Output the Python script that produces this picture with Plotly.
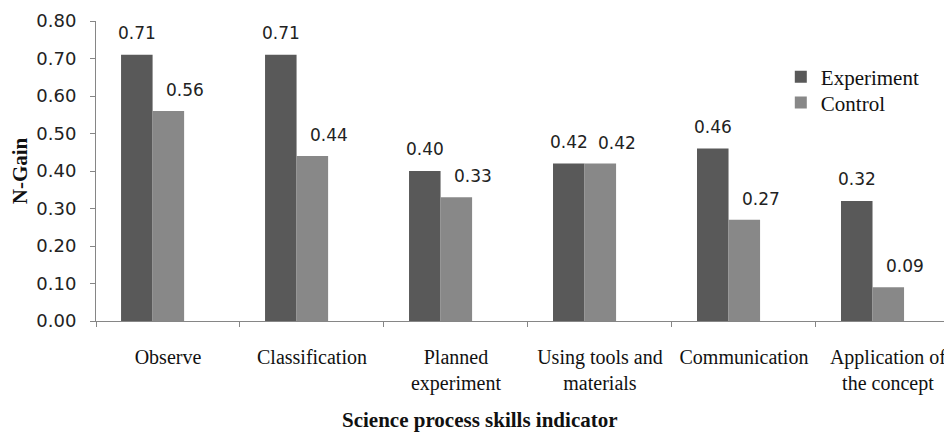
import plotly.graph_objects as go

categories = ["Observe", "Classification", "Planned<br>experiment",
              "Using tools and<br>materials", "Communication",
              "Application of<br>the concept"]
experiment = [0.71, 0.71, 0.40, 0.42, 0.46, 0.32]
control = [0.56, 0.44, 0.33, 0.42, 0.27, 0.09]
series_names = ["Experiment", "Control"]
y_ticks = [0.0, 0.1, 0.2, 0.3, 0.4, 0.5, 0.6, 0.7, 0.8]

DARK = "#595959"
LIGHT = "#888888"
SERIF = "Liberation Serif"
SANS = "DejaVu Sans"

fig = go.Figure()
fig.add_trace(go.Bar(x=categories, y=experiment, name=series_names[0],
                     marker=dict(color=DARK, line=dict(width=0)),
                     width=0.219, offset=-0.326, legend="legend",
                     showlegend=True))
fig.add_trace(go.Bar(x=categories, y=control, name=series_names[1],
                     marker=dict(color=LIGHT, line=dict(width=0)),
                     width=0.219, offset=-0.107, legend="legend2",
                     showlegend=True))

annotations = []
for c, v in zip(categories, experiment):
    annotations.append(dict(x=c, y=v, xref="x", yref="y", text=f"{v:.2f}",
                            showarrow=False, xshift=-31, yshift=22,
                            font=dict(family=SANS, size=17, color="#222")))
for c, v in zip(categories, control):
    annotations.append(dict(x=c, y=v, xref="x", yref="y", text=f"{v:.2f}",
                            showarrow=False, xshift=17, yshift=21,
                            font=dict(family=SANS, size=17, color="#222")))
annotations.append(dict(x=0.4486, y=-0.377, xref="paper", yref="paper",
                        text="<b>Science process skills indicator</b>",
                        showarrow=False, xanchor="center", yanchor="bottom",
                        font=dict(family=SERIF, size=21, color="#111")))

legend_style = dict(xanchor="left", yanchor="middle",
                    font=dict(family=SERIF, size=21, color="#111"),
                    bgcolor="rgba(0,0,0,0)", visible=True)

fig.update_layout(
    width=944, height=427,
    margin=dict(l=88, r=0, t=13, b=114),
    paper_bgcolor="white", plot_bgcolor="white",
    barmode="group",
    showlegend=True,
    annotations=annotations,
    legend=dict(x=0.8, y=0.813, **legend_style),
    legend2=dict(x=0.8, y=0.727, **legend_style),
    xaxis=dict(type="category", range=[-0.5, 5.445], automargin=False,
               tickangle=0,
               showline=True, linecolor="#868686", linewidth=1,
               ticks="outside", tickson="boundaries", ticklen=5,
               tickcolor="#868686", showgrid=False,
               ticklabelstandoff=18,
               tickfont=dict(family=SERIF, size=20, color="#111")),
    yaxis=dict(range=[0, 0.8], tickvals=y_ticks, tickformat=".2f",
               automargin=False,
               showline=True, linecolor="#868686", linewidth=1,
               ticks="outside", ticklen=5, tickcolor="#868686",
               showgrid=False, zeroline=False, ticklabelstandoff=10,
               tickfont=dict(family=SANS, size=18, color="#222"),
               title=dict(text="<b>N-Gain</b>", standoff=6,
                          font=dict(family=SERIF, size=21, color="#111"))),
)

fig.write_html("out.html")
